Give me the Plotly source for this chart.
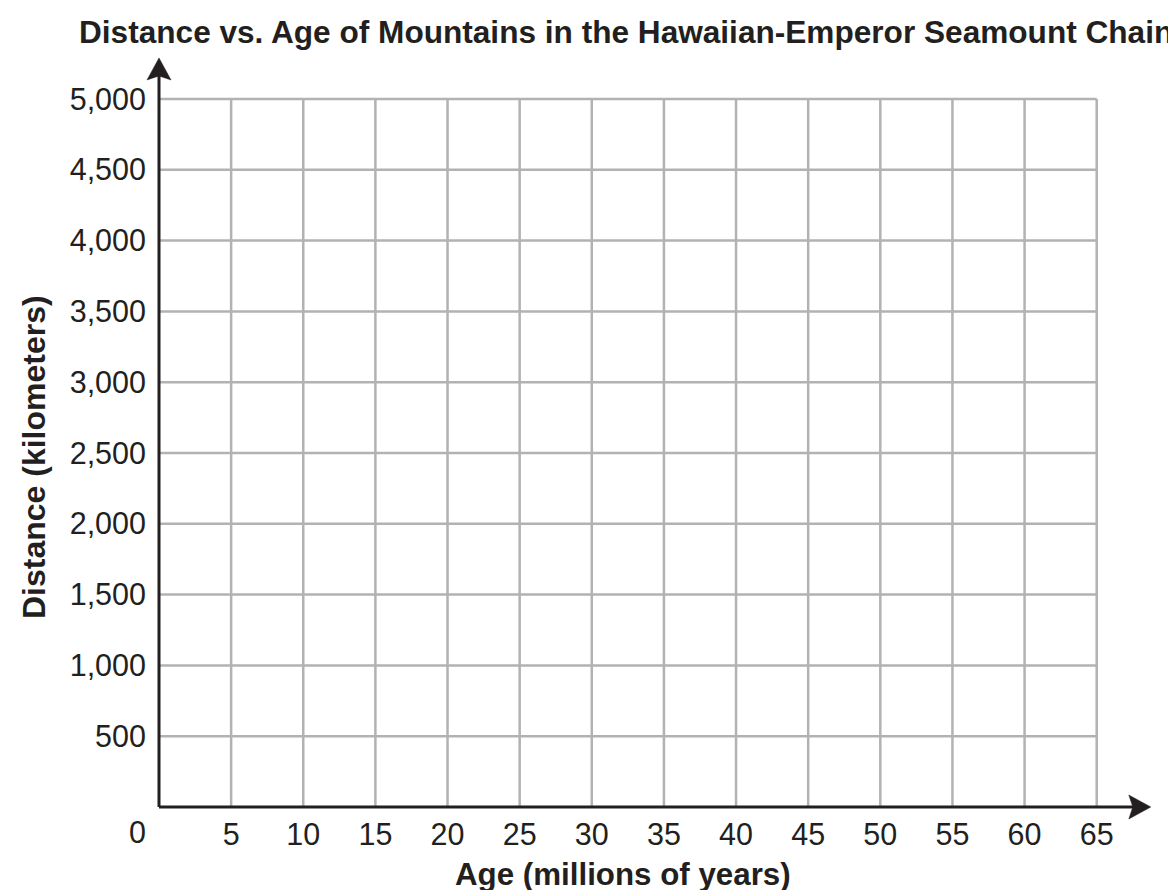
import plotly.graph_objects as go

# ---- data / axis definitions ----
x_ticks = [5, 10, 15, 20, 25, 30, 35, 40, 45, 50, 55, 60, 65]
x_tick_labels = ["5", "10", "15", "20", "25", "30", "35", "40", "45", "50", "55", "60", "65"]
y_ticks = [500, 1000, 1500, 2000, 2500, 3000, 3500, 4000, 4500, 5000]
y_tick_labels = ["500", "1,000", "1,500", "2,000", "2,500", "3,000", "3,500", "4,000", "4,500", "5,000"]
origin_label = "0"
x_max_grid = 65
y_max_grid = 5000
x_arrow_tip = 68.75
y_arrow_tip = 5290

title_text = "Distance vs. Age of Mountains in the Hawaiian-Emperor Seamount Chain"
x_title = "Age (millions of years)"
y_title = "Distance (kilometers)"

FONT = "Liberation Sans, Arial, Helvetica, sans-serif"
DARK = "#231f20"
GRID = "#b2b2b4"

# ---- layout geometry (pixels) ----
W, H = 1176, 890
ML, MR, MT, MB = 120, 10, 30, 60
PW, PH = W - ML - MR, H - MT - MB
X0_PX, Y0_PX = 151, 799          # origin position
SX = (1088.7 - X0_PX) / 65.0     # px per x unit
SY = (Y0_PX - 91.0) / 5000.0     # px per y unit
x_range = [-(X0_PX - ML) / SX, (W - MR - X0_PX) / SX]
y_range = [-(H - MB - Y0_PX) / SY, (Y0_PX - MT) / SY]


def paper_x(px):
    return (px - ML) / PW


def paper_y(py):
    return (H - MB - py) / PH


fig = go.Figure()
fig.add_trace(go.Scatter(x=[0], y=[0], mode="markers", marker=dict(opacity=0),
                         showlegend=False, hoverinfo="skip"))

shapes = []
for xv in x_ticks:
    shapes.append(dict(type="line", xref="x", yref="y", x0=xv, x1=xv, y0=0, y1=y_max_grid,
                       line=dict(color=GRID, width=2.5), layer="below"))
for yv in y_ticks:
    shapes.append(dict(type="line", xref="x", yref="y", x0=0, x1=x_max_grid, y0=yv, y1=yv,
                       line=dict(color=GRID, width=2.5), layer="below"))

# axis lines (stop short of the tip, covered by heads)
shapes.append(dict(type="line", xref="x", yref="y", x0=0, x1=x_arrow_tip - 12 / SX, y0=0, y1=0,
                   line=dict(color=DARK, width=3)))
shapes.append(dict(type="line", xref="x", yref="y", x0=0, x1=0, y0=0, y1=y_arrow_tip - 12 / SY,
                   line=dict(color=DARK, width=3)))
# arrow heads (pixel-sized, notched)
shapes.append(dict(type="path", xref="x", yref="y", xsizemode="pixel", ysizemode="pixel",
                   xanchor=x_arrow_tip, yanchor=0,
                   path="M0,0 L-22,12 L-18,0 L-22,-12 Z",
                   fillcolor=DARK, line=dict(color=DARK, width=0.5)))
shapes.append(dict(type="path", xref="x", yref="y", xsizemode="pixel", ysizemode="pixel",
                   xanchor=0, yanchor=y_arrow_tip,
                   path="M0,0 L12,-22 L0,-18 L-12,-22 Z",
                   fillcolor=DARK, line=dict(color=DARK, width=0.5)))

annotations = [
    dict(x=0, y=paper_y(Y0_PX), xref="x", yref="paper", xshift=-22, yshift=-6,
         text=origin_label, showarrow=False, xanchor="center", yanchor="top",
         font=dict(family=FONT, size=30.5, color=DARK)),
    dict(x=paper_x(618), y=paper_y(24), xref="paper", yref="paper", text="<b>" + title_text + "</b>",
         showarrow=False, xanchor="center", yanchor="middle",
         font=dict(family=FONT, size=31.6, color=DARK)),
    dict(x=paper_x(615), y=paper_y(866), xref="paper", yref="paper", text="<b>" + x_title + "</b>",
         showarrow=False, xanchor="center", yanchor="middle",
         font=dict(family=FONT, size=31.3, color=DARK)),
    dict(x=paper_x(26), y=paper_y(449), xref="paper", yref="paper", text="<b>" + y_title + "</b>",
         showarrow=False, xanchor="center", yanchor="middle", textangle=-90,
         font=dict(family=FONT, size=32, color=DARK)),
]

fig.update_layout(
    width=W, height=H,
    margin=dict(l=ML, r=MR, t=MT, b=MB, pad=0),
    paper_bgcolor="white", plot_bgcolor="white",
    showlegend=False,
    shapes=shapes, annotations=annotations,
    xaxis=dict(range=x_range, tickmode="array", tickvals=x_ticks, ticktext=x_tick_labels,
               anchor="free", position=paper_y(Y0_PX),
               showgrid=False, zeroline=False, showline=False, ticks="", ticklabelstandoff=6,
               tickfont=dict(family=FONT, size=30.5, color=DARK), fixedrange=True),
    yaxis=dict(range=y_range, tickmode="array", tickvals=y_ticks, ticktext=y_tick_labels,
               anchor="free", position=paper_x(X0_PX),
               showgrid=False, zeroline=False, showline=False, ticks="", ticklabelstandoff=13,
               tickfont=dict(family=FONT, size=30.5, color=DARK), fixedrange=True),
)

fig.write_html("out.html")
